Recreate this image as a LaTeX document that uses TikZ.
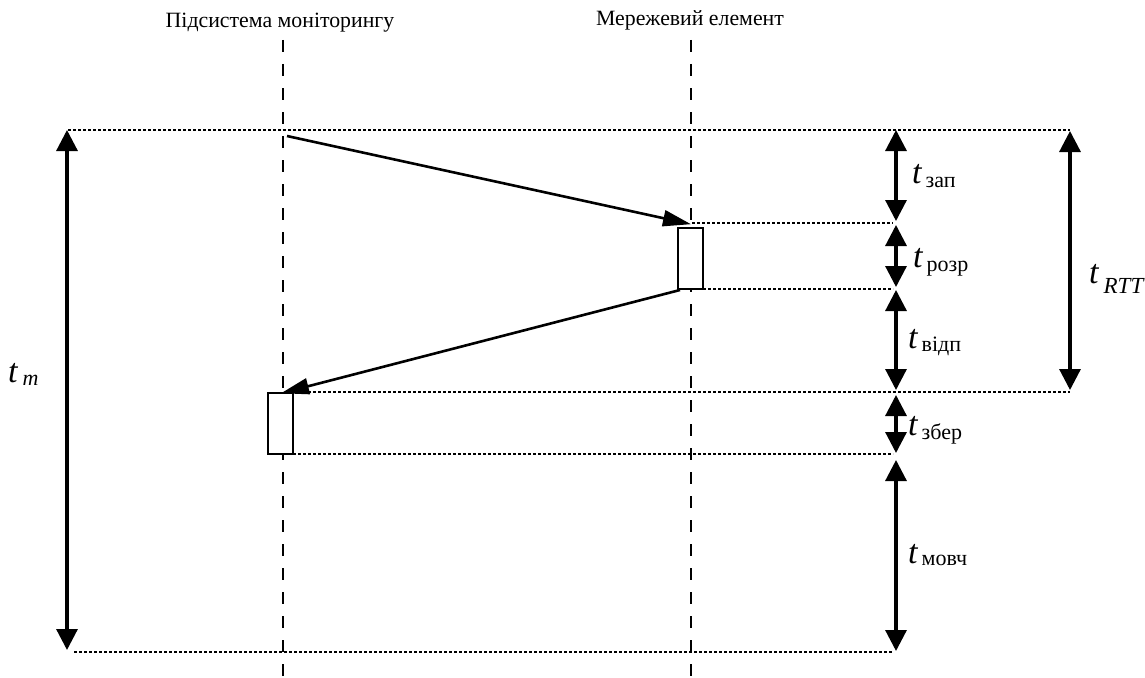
\documentclass[tikz,border=0pt]{standalone}
\usepackage{fontspec}
\setmainfont{Liberation Serif}
\usetikzlibrary{arrows.meta}
\newcommand{\tlab}[2][4pt]{\fontsize{34}{34}\selectfont\itshape t\kern4pt\raisebox{-#1}{\fontsize{22}{22}\selectfont\upshape #2}}
\newcommand{\tlabit}[3][3pt]{\fontsize{34}{34}\selectfont\itshape t\kern5pt\raisebox{-#1}{\fontsize{#2}{#2}\selectfont\itshape #3}}
\begin{document}
\begin{tikzpicture}[x=1pt,y=-1pt,
  life/.style={line width=1.3pt, dash pattern=on 12pt off 12pt},
  guide/.style={line width=2pt, dash pattern=on 3pt off 2pt},
  msg/.style={line width=2.6pt, -{Triangle[length=28pt,width=16pt]}, shorten >=-1pt},
  dim/.style={line width=3.2pt, {Triangle[length=21pt,width=21pt]}-{Triangle[length=21pt,width=21pt]}},
  act/.style={draw, fill=white, line width=2.4pt, minimum width=25pt, minimum height=61pt, inner sep=0pt},
  head/.style={font=\fontsize{21.8}{22}\selectfont},
  lab/.style={anchor=base west, inner sep=0pt}]
\useasboundingbox (0,0) rectangle (1145,677);
\fill[white] (0,0) rectangle (1145,677);
% headers
\node[head] (hA) at (280,23) {Підсистема моніторингу};
\node[head] (hB) at (690,20) {Мережевий елемент};
% lifelines
\coordinate (a0) at (283,40); \coordinate (a1) at (283,677);
\coordinate (b0) at (691,40); \coordinate (b1) at (691,677);
\draw[life] (a0) -- (a1);
\draw[life] (b0) -- (b1);
% activations
\node[act] (procB) at (690.5,258.5) {};
\node[act] (procA) at (280.5,423.5) {};
% guide lines
\coordinate (g1l) at (68,130);  \coordinate (g1r) at (1070,130);
\coordinate (g2l) at (692,223); \coordinate (g2r) at (893,223);
\coordinate (g3l) at (703,289); \coordinate (g3r) at (893,289);
\coordinate (g4l) at (293,392); \coordinate (g4r) at (1070,392);
\coordinate (g5l) at (293,454); \coordinate (g5r) at (893,454);
\coordinate (g6l) at (74,652);  \coordinate (g6r) at (893,652);
\foreach \i in {1,...,6} \draw[guide] (g\i l) -- (g\i r);
% messages
\coordinate (m1) at (287,136);
\coordinate (m1e) at (690,224);
\draw[msg] (m1) -- (m1e);
\coordinate (m2s) at (680,290);
\coordinate (m2e) at (282,393);
\draw[msg] (m2s) -- (m2e);
% dimension arrows
\coordinate (dm0) at (67,130); \coordinate (dm1) at (67,650);
\draw[dim] (dm0) -- (dm1);
\coordinate (dr0) at (1070,131); \coordinate (dr1) at (1070,390);
\draw[dim] (dr0) -- (dr1);
\coordinate (d0) at (896,130); \coordinate (d1) at (896,221);
\coordinate (d2) at (896,225); \coordinate (d3) at (896,287);
\coordinate (d4) at (896,290); \coordinate (d5) at (896,390);
\coordinate (d6) at (896,395); \coordinate (d7) at (896,453);
\coordinate (d8) at (896,460); \coordinate (d9) at (896,651);
\draw[dim] (d0) -- (d1);
\draw[dim] (d2) -- (d3);
\draw[dim] (d4) -- (d5);
\draw[dim] (d6) -- (d7);
\draw[dim] (d8) -- (d9);
% labels
\node[lab] (lzap) at (912,183) {\tlab{зап}};
\node[lab] (lrozr) at (913,267) {\tlab{розр}};
\node[lab] (lvidp) at (908,348) {\tlab[3pt]{відп}};
\node[lab] (lzber) at (908,435) {\tlab{збер}};
\node[lab] (lmovch) at (908,563) {\tlab[2pt]{мовч}};
\node[lab] (lm) at (8,382) {\tlabit{22}{m}};
\node[lab] (lrtt) at (1089,283) {\tlabit[10pt]{23}{RTT}};
\end{tikzpicture}
\end{document}
